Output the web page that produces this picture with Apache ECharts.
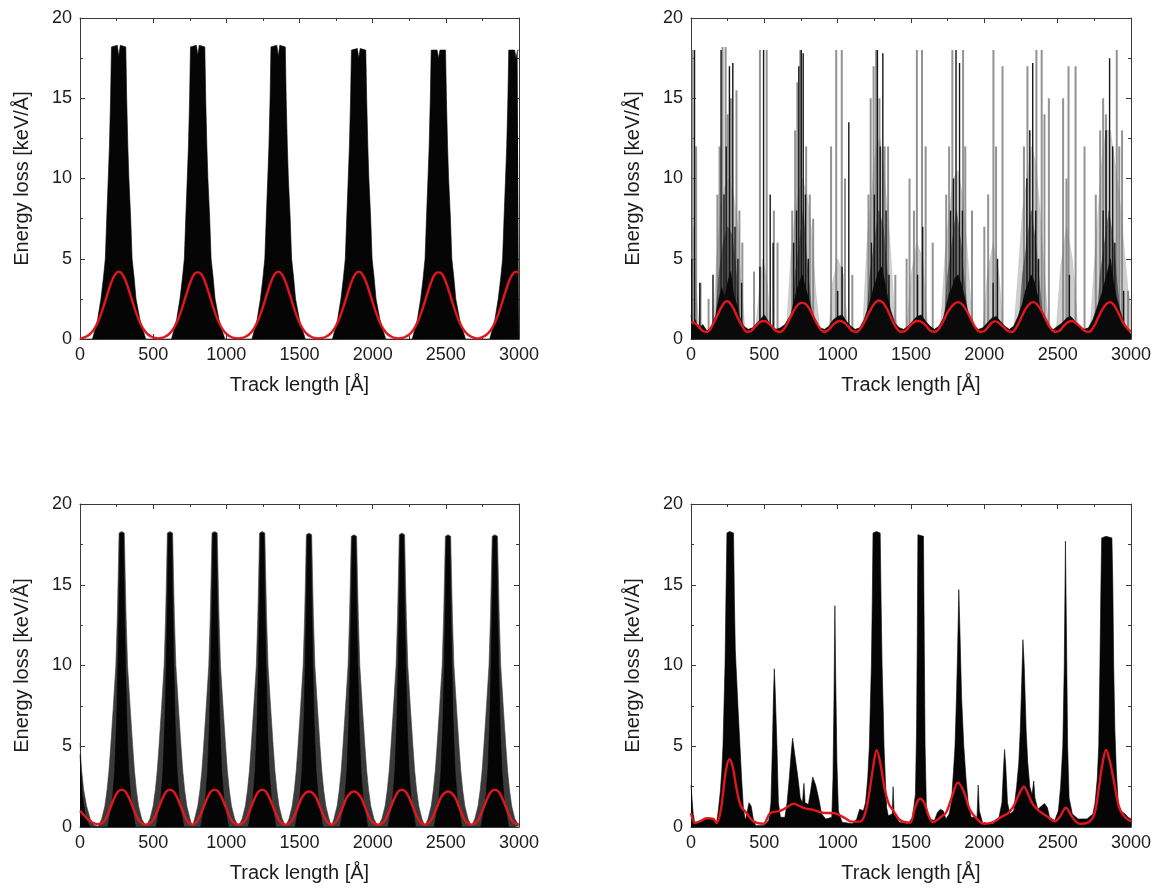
<!DOCTYPE html>
<html>
<head>
<meta charset="utf-8">
<script src="https://cdn.jsdelivr.net/npm/echarts@6/dist/echarts.min.js"></script>
<style>
html,body{margin:0;padding:0;background:#fff;}
#chart{width:1156px;height:893px;}
</style>
</head>
<body>
<div id="chart"></div>
<script>
// ---------------- DATA ----------------
const xTicks = [0, 500, 1000, 1500, 2000, 2500, 3000];
const yTicks = [0, 5, 10, 15, 20];
const xName = 'Track length [Å]';
const yName = 'Energy loss [keV/Å]';

// Panel 1 (top-left): envelope of the black traces
const p1Black = [
[0,0],[85,0],[100,0.5],[120,1.2],[143,2.5],[160,3.8],[173,5],[183,7.6],[193,10],[201,12],[209,15],[215,18.2],[255,18.3],[265,17.6],[275,18.3],[313,18.2],[319,15],[327,12],[334,10],[346,7.6],[356,5],[370,3.8],[383,2.5],[410,1.2],[432,0.5],[450,0],
[625,0],[640,0.5],[660,1.2],[683,2.5],[700,3.8],[713,5],[723,7.6],[733,10],[741,12],[749,15],[755,18.2],[795,18.3],[805,17.7],[815,18.3],[853,18.2],[859,15],[867,12],[874,10],[886,7.6],[896,5],[910,3.8],[923,2.5],[950,1.2],[972,0.5],[990,0],
[1175,0],[1190,0.5],[1210,1.2],[1233,2.5],[1250,3.8],[1263,5],[1273,7.6],[1283,10],[1291,12],[1299,15],[1305,18.2],[1345,18.3],[1355,17.6],[1365,18.3],[1403,18.2],[1409,15],[1417,12],[1424,10],[1436,7.6],[1446,5],[1460,3.8],[1473,2.5],[1500,1.2],[1522,0.5],[1540,0],
[1725,0],[1740,0.5],[1760,1.2],[1783,2.5],[1800,3.8],[1813,5],[1823,7.6],[1833,10],[1841,12],[1849,15],[1855,18.0],[1895,18.1],[1905,17.5],[1915,18.1],[1953,18.0],[1959,15],[1967,12],[1974,10],[1986,7.6],[1996,5],[2010,3.8],[2023,2.5],[2050,1.2],[2072,0.5],[2090,0],
[2270,0],[2285,0.5],[2305,1.2],[2328,2.5],[2345,3.8],[2358,5],[2368,7.6],[2378,10],[2386,12],[2394,15],[2400,18.0],[2440,18.0],[2450,17.5],[2460,18.0],[2498,18.0],[2504,15],[2512,12],[2519,10],[2531,7.6],[2541,5],[2555,3.8],[2568,2.5],[2595,1.2],[2617,0.5],[2635,0],
[2800,0],[2815,0.5],[2835,1.2],[2858,2.5],[2875,3.8],[2888,5],[2898,7.6],[2908,10],[2916,12],[2924,15],[2930,18.0],[2970,18.0],[2980,17.5],[2990,18.0],[3000,18.0]
];
const p1Red = [
[0,0.04],[15,0.06],[40,0.14],[65,0.28],[90,0.53],[115,0.92],[140,1.46],[165,2.14],[190,2.87],[215,3.55],[240,4.03],[265,4.2],[290,4.03],[315,3.55],[340,2.87],[365,2.14],[390,1.46],[415,0.92],[440,0.53],[465,0.28],[490,0.14],[515,0.06],[535,0.04],
[555,0.06],[580,0.14],[605,0.28],[630,0.53],[655,0.92],[680,1.46],[705,2.14],[730,2.87],[755,3.55],[780,4.03],[805,4.15],[830,4.03],[855,3.55],[880,2.87],[905,2.14],[930,1.46],[955,0.92],[980,0.53],[1005,0.28],[1030,0.14],[1055,0.06],[1080,0.04],
[1105,0.06],[1130,0.14],[1155,0.28],[1180,0.53],[1205,0.92],[1230,1.46],[1255,2.14],[1280,2.87],[1305,3.55],[1330,4.03],[1355,4.2],[1380,4.03],[1405,3.55],[1430,2.87],[1455,2.14],[1480,1.46],[1505,0.92],[1530,0.53],[1555,0.28],[1580,0.14],[1605,0.06],[1630,0.04],
[1655,0.06],[1680,0.14],[1705,0.28],[1730,0.53],[1755,0.92],[1780,1.46],[1805,2.14],[1830,2.87],[1855,3.55],[1880,4.03],[1905,4.2],[1930,4.03],[1955,3.55],[1980,2.87],[2005,2.14],[2030,1.46],[2055,0.92],[2080,0.53],[2105,0.28],[2130,0.14],[2155,0.06],[2175,0.04],
[2200,0.06],[2225,0.14],[2250,0.28],[2275,0.53],[2300,0.92],[2325,1.46],[2350,2.14],[2375,2.87],[2400,3.55],[2425,4.03],[2450,4.15],[2475,4.03],[2500,3.55],[2525,2.87],[2550,2.14],[2575,1.46],[2600,0.92],[2625,0.53],[2650,0.28],[2675,0.14],[2700,0.06],[2715,0.04],
[2730,0.06],[2755,0.14],[2780,0.28],[2805,0.53],[2830,0.92],[2855,1.46],[2880,2.14],[2905,2.87],[2930,3.55],[2955,4.03],[2980,4.2],[3000,4.1]
];

// Panel 2 (top-right)
const p2Grey = [
[0,4],[15,7],[35,3],[60,0.5],[150,0.5],[175,5],[200,8],[230,9.5],[260,10],[290,9],[320,7],[345,3],[370,0.5],[440,0.5],[465,3],[490,5],[520,3.5],[545,0.5],[650,0.5],[680,5],[700,7],[730,9],[760,10],[790,9],[820,7],[850,3],[880,0.5],[940,0.5],[965,3.5],[1000,5],[1040,4],[1070,0.5],[1170,0.5],[1200,6],[1230,9],[1260,12],[1290,12.5],[1320,10],[1350,7],[1385,2],[1410,0.5],[1470,0.5],[1500,4],[1540,6],[1580,5],[1615,0.5],[1700,0.5],[1730,5],[1760,8],[1790,10],[1820,10.5],[1850,9],[1880,6],[1910,2],[1935,0.5],[1990,0.5],[2020,4],[2060,6],[2100,4],[2130,0.5],[2200,0.5],[2230,4],[2260,8],[2290,10],[2320,12],[2350,11],[2380,8],[2410,4],[2440,0.5],[2490,0.5],[2520,4.5],[2560,7],[2600,5],[2640,0.5],[2720,0.5],[2760,6],[2800,11],[2830,13],[2860,13],[2890,11],[2920,9],[2950,6],[2980,3],[3000,2]
];
const p2Dark = [
[0,0.8],[160,0.3],[190,4],[220,6],[250,7],[280,6.5],[310,4],[340,0.3],[680,0.3],[710,4],[740,6],[765,8],[790,5],[820,2],[850,0.3],[1190,0.3],[1220,4],[1250,6],[1280,8],[1310,7],[1340,4],[1370,0.3],[1720,0.3],[1750,4],[1780,6],[1810,8],[1840,6],[1870,3],[1900,0.3],[2230,0.3],[2260,4],[2290,6],[2320,8],[2350,6],[2380,3],[2410,0.3],[2760,0.3],[2790,4],[2820,6],[2850,8],[2880,6],[2910,3],[2940,0.3],[3000,0.3]
];
const p2GreySpikes = [
[10,18],[35,12],[65,3.5],[120,2.5],[180,9],[195,12],[215,18.2],[236,18.2],[250,14],[272,15],[310,15.5],[330,8],[350,6],[430,4.2],[470,18],[516,18],[565,8],[590,6],[690,8],[710,13],[725,16],[745,18],[785,12],[810,9],[833,7.5],[955,12],[990,18],[1028,18],[1050,10],[1100,4],[1210,9],[1225,15],[1245,17],[1262,18],[1285,15],[1320,12],[1344,12],[1393,4],[1470,5],[1490,10],[1520,8],[1540,18],[1575,18],[1600,12],[1648,6],[1740,9],[1760,12],[1782,18],[1855,18],[1870,12],[1916,8],[2000,7],[2026,9],[2062,18],[2080,12],[2124,17],[2270,12],[2294,17],[2355,18],[2391,18],[2410,14],[2440,15],[2537,15],[2560,10],[2574,17],[2622,17],[2683,12],[2760,9],[2790,13],[2810,15],[2829,14],[2903,18],[2920,12],[2939,13],[2980,3]
];
const p2BlackSpikes = [
[5,5],[24,18],[60,3.5],[150,4],[205,18],[225,9],[240,12],[262,17],[285,17.2],[300,7],[320,5],[345,3.5],[470,4.5],[495,18],[540,9],[560,6],[700,6],[720,8],[735,17],[752,18],[765,17.8],[780,9],[800,5],[1000,3],[1030,4.5],[1076,13.5],[1230,6],[1250,9],[1271,18],[1290,12],[1308,17.8],[1330,8],[1350,4],[1545,4],[1580,7],[1770,8],[1790,10],[1807,18],[1831,17.2],[1850,8],[2060,3.5],[2090,5],[2290,10],[2310,13],[2330,17.2],[2350,8],[2370,5],[2580,4],[2810,8],[2830,13],[2854,17.5],[2875,12],[2890,6],[2950,3]
];
const p2Black = [
[0,1.5],[10,0.8],[30,1.2],[50,0.6],[80,0.9],[110,0.5],[140,0.8],[170,1.5],[190,2.5],[210,3.2],[230,2.6],[250,3.5],[270,4.2],[290,2.8],[310,2.2],[330,1.4],[360,0.8],[390,0.6],[420,0.7],[450,1.0],[480,1.3],[500,1.5],[520,1.2],[550,0.8],[580,0.6],[610,0.7],[640,0.9],[680,1.5],[700,2.2],[720,3.0],[740,3.6],[760,4.0],[780,3.2],[800,2.6],[820,1.8],[850,1.0],[880,0.7],[910,0.6],[940,0.8],[970,1.2],[1000,1.4],[1030,1.5],[1060,1.1],[1090,0.8],[1120,0.6],[1150,0.7],[1180,1.2],[1210,2.0],[1240,3.0],[1260,3.6],[1280,4.2],[1300,4.5],[1320,3.6],[1340,2.6],[1360,1.8],[1390,1.0],[1420,0.7],[1450,0.6],[1480,0.8],[1510,1.1],[1540,1.4],[1570,1.5],[1600,1.1],[1630,0.8],[1660,0.6],[1690,0.8],[1720,1.3],[1740,2.0],[1760,2.8],[1780,3.2],[1800,3.8],[1820,4.0],[1840,3.5],[1860,2.8],[1880,2.0],[1900,1.3],[1930,0.8],[1960,0.6],[1990,0.7],[2020,1.0],[2050,1.3],[2080,1.4],[2110,1.1],[2140,0.8],[2170,0.6],[2200,0.8],[2230,1.4],[2260,2.2],[2280,3.0],[2300,3.5],[2320,4.0],[2340,3.6],[2360,2.8],[2380,2.0],[2410,1.2],[2440,0.7],[2470,0.6],[2500,0.8],[2530,1.0],[2560,1.3],[2590,1.4],[2620,1.1],[2650,0.8],[2680,0.6],[2710,0.7],[2740,1.2],[2770,2.0],[2800,2.8],[2820,3.5],[2840,4.2],[2860,5.0],[2880,3.6],[2900,2.6],[2930,1.6],[2960,0.8],[2980,0.5],[3000,0.3]
];
const p2Red = [
[0,1.05],[25,1.0],[50,0.8],[80,0.5],[110,0.45],[140,0.75],[170,1.3],[200,1.85],[225,2.25],[245,2.35],[265,2.25],[290,1.9],[320,1.3],[350,0.8],[380,0.45],[410,0.5],[440,0.8],[470,1.05],[495,1.12],[520,1.05],[550,0.8],[580,0.5],[610,0.45],[640,0.7],[670,1.2],[700,1.75],[730,2.15],[757,2.25],[785,2.15],[815,1.75],[845,1.2],[875,0.7],[905,0.45],[935,0.55],[965,0.85],[995,1.08],[1015,1.12],[1040,1.05],[1070,0.8],[1100,0.5],[1130,0.45],[1160,0.7],[1190,1.2],[1220,1.75],[1250,2.2],[1280,2.4],[1310,2.25],[1340,1.8],[1370,1.2],[1400,0.7],[1430,0.45],[1460,0.5],[1490,0.8],[1520,1.05],[1548,1.12],[1575,1.05],[1605,0.8],[1635,0.5],[1665,0.45],[1695,0.7],[1725,1.2],[1755,1.75],[1790,2.15],[1822,2.3],[1850,2.15],[1880,1.75],[1910,1.2],[1940,0.7],[1970,0.45],[2000,0.5],[2030,0.8],[2055,1.05],[2075,1.1],[2100,1.0],[2130,0.75],[2160,0.5],[2190,0.45],[2220,0.75],[2250,1.3],[2280,1.85],[2310,2.2],[2335,2.3],[2360,2.15],[2390,1.75],[2420,1.2],[2450,0.7],[2480,0.45],[2510,0.5],[2540,0.8],[2570,1.05],[2598,1.12],[2625,1.0],[2655,0.75],[2685,0.5],[2715,0.45],[2745,0.75],[2775,1.3],[2805,1.85],[2835,2.2],[2858,2.3],[2885,2.1],[2915,1.6],[2945,1.05],[2975,0.65],[3000,0.45]
];

// Panel 3 (bottom-left)
const p3Outer = [
[0,5.2],[10,3.6],[25,2.3],[45,1.3],[70,0.5],[100,0.1],[125,0.05],
[148,0.5],[170,1.3],[185,2.3],[198,3.5],[210,5],[228,7.5],[245,10],[255,13],[261,15.5],[267,18.2],[285,18.3],[303,18.2],[309,15.5],[315,13],[325,10],[342,7.5],[360,5],[372,3.5],[385,2.3],[400,1.3],[422,0.5],[450,0.05],
[478,0.5],[500,1.3],[515,2.3],[528,3.5],[540,5],[558,7.5],[575,10],[585,13],[591,15.5],[597,18.2],[615,18.3],[633,18.2],[639,15.5],[645,13],[655,10],[672,7.5],[690,5],[702,3.5],[715,2.3],[730,1.3],[752,0.5],[767,0.05],
[783,0.5],[805,1.3],[820,2.3],[833,3.5],[845,5],[863,7.5],[880,10],[890,13],[896,15.5],[902,18.2],[920,18.3],[938,18.2],[944,15.5],[950,13],[960,10],[977,7.5],[995,5],[1007,3.5],[1020,2.3],[1035,1.3],[1057,0.5],[1082,0.05],
[1108,0.5],[1130,1.3],[1145,2.3],[1158,3.5],[1170,5],[1188,7.5],[1205,10],[1215,13],[1221,15.5],[1227,18.2],[1245,18.3],[1263,18.2],[1269,15.5],[1275,13],[1285,10],[1302,7.5],[1320,5],[1332,3.5],[1345,2.3],[1360,1.3],[1382,0.5],[1405,0.05],
[1428,0.5],[1450,1.3],[1465,2.3],[1478,3.5],[1490,5],[1508,7.5],[1525,10],[1535,13],[1541,15.5],[1547,18.1],[1565,18.2],[1583,18.1],[1589,15.5],[1595,13],[1605,10],[1622,7.5],[1640,5],[1652,3.5],[1665,2.3],[1680,1.3],[1702,0.5],[1718,0.05],
[1735,0.5],[1757,1.3],[1772,2.3],[1785,3.5],[1797,5],[1815,7.5],[1832,10],[1842,13],[1848,15.5],[1854,18.0],[1872,18.1],[1890,18.0],[1896,15.5],[1902,13],[1912,10],[1929,7.5],[1947,5],[1959,3.5],[1972,2.3],[1987,1.3],[2009,0.5],[2036,0.05],
[2063,0.5],[2085,1.3],[2100,2.3],[2113,3.5],[2125,5],[2143,7.5],[2160,10],[2170,13],[2176,15.5],[2182,18.1],[2200,18.2],[2218,18.1],[2224,15.5],[2230,13],[2240,10],[2257,7.5],[2275,5],[2287,3.5],[2300,2.3],[2315,1.3],[2337,0.5],[2357,0.05],
[2378,0.5],[2400,1.3],[2415,2.3],[2428,3.5],[2440,5],[2458,7.5],[2475,10],[2485,13],[2491,15.5],[2497,18.0],[2515,18.1],[2533,18.0],[2539,15.5],[2545,13],[2555,10],[2572,7.5],[2590,5],[2602,3.5],[2615,2.3],[2630,1.3],[2652,0.5],[2675,0.05],
[2698,0.5],[2720,1.3],[2735,2.3],[2748,3.5],[2760,5],[2778,7.5],[2795,10],[2805,13],[2811,15.5],[2817,18.0],[2835,18.1],[2853,18.0],[2859,15.5],[2865,13],[2875,10],[2892,7.5],[2910,5],[2922,3.5],[2935,2.3],[2950,1.3],[2972,0.5],[3000,0.1]
];
const p3Core = [
[0,4.5],[15,2],[40,0.5],[70,0],
[190,0],[220,1.5],[237,3.5],[250,6.5],[259,10],[267,14],[273,18.2],[297,18.2],[303,14],[311,10],[320,6.5],[333,3.5],[350,1.5],[380,0],
[520,0],[550,1.5],[567,3.5],[580,6.5],[589,10],[597,14],[603,18.2],[627,18.2],[633,14],[641,10],[650,6.5],[663,3.5],[680,1.5],[710,0],
[825,0],[855,1.5],[872,3.5],[885,6.5],[894,10],[902,14],[908,18.2],[932,18.2],[938,14],[946,10],[955,6.5],[968,3.5],[985,1.5],[1015,0],
[1150,0],[1180,1.5],[1197,3.5],[1210,6.5],[1219,10],[1227,14],[1233,18.2],[1257,18.2],[1263,14],[1271,10],[1280,6.5],[1293,3.5],[1310,1.5],[1340,0],
[1470,0],[1500,1.5],[1517,3.5],[1530,6.5],[1539,10],[1547,14],[1553,18.1],[1577,18.1],[1583,14],[1591,10],[1600,6.5],[1613,3.5],[1630,1.5],[1660,0],
[1777,0],[1807,1.5],[1824,3.5],[1837,6.5],[1846,10],[1854,14],[1860,18.0],[1884,18.0],[1890,14],[1898,10],[1907,6.5],[1920,3.5],[1937,1.5],[1967,0],
[2105,0],[2135,1.5],[2152,3.5],[2165,6.5],[2174,10],[2182,14],[2188,18.1],[2212,18.1],[2218,14],[2226,10],[2235,6.5],[2248,3.5],[2265,1.5],[2295,0],
[2420,0],[2450,1.5],[2467,3.5],[2480,6.5],[2489,10],[2497,14],[2503,18.0],[2527,18.0],[2533,14],[2541,10],[2550,6.5],[2563,3.5],[2580,1.5],[2610,0],
[2740,0],[2770,1.5],[2787,3.5],[2800,6.5],[2809,10],[2817,14],[2823,18.0],[2847,18.0],[2853,14],[2861,10],[2870,6.5],[2883,3.5],[2900,1.5],[2930,0],[3000,0]
];
const p3Red = [
[0,1.0],[25,0.75],[50,0.5],[80,0.3],[120,0.18],[160,0.3],[185,0.7],[210,1.25],[235,1.8],[260,2.2],[285,2.3],[310,2.2],[335,1.8],[360,1.25],[385,0.7],[410,0.3],[450,0.15],
[490,0.3],[515,0.7],[540,1.25],[565,1.8],[590,2.2],[615,2.3],[640,2.2],[665,1.8],[690,1.25],[715,0.7],[740,0.3],[767,0.15],
[795,0.3],[820,0.7],[845,1.25],[870,1.8],[895,2.2],[920,2.3],[945,2.2],[970,1.8],[995,1.25],[1020,0.7],[1045,0.3],[1082,0.15],
[1120,0.3],[1145,0.7],[1170,1.25],[1195,1.8],[1220,2.2],[1245,2.3],[1270,2.2],[1295,1.8],[1320,1.25],[1345,0.7],[1370,0.3],[1405,0.15],
[1440,0.3],[1465,0.7],[1490,1.25],[1515,1.8],[1540,2.1],[1565,2.2],[1590,2.1],[1615,1.8],[1640,1.25],[1665,0.7],[1690,0.3],[1718,0.15],
[1747,0.3],[1772,0.7],[1797,1.25],[1822,1.8],[1847,2.1],[1872,2.2],[1897,2.1],[1922,1.8],[1947,1.25],[1972,0.7],[1997,0.3],[2036,0.15],
[2075,0.3],[2100,0.7],[2125,1.25],[2150,1.8],[2175,2.2],[2200,2.3],[2225,2.2],[2250,1.8],[2275,1.25],[2300,0.7],[2325,0.3],[2357,0.15],
[2390,0.3],[2415,0.7],[2440,1.25],[2465,1.8],[2490,2.1],[2515,2.2],[2540,2.1],[2565,1.8],[2590,1.25],[2615,0.7],[2640,0.3],[2675,0.15],
[2710,0.3],[2735,0.7],[2760,1.25],[2785,1.8],[2810,2.2],[2835,2.3],[2860,2.2],[2885,1.8],[2910,1.25],[2935,0.7],[2960,0.3],[3000,0.15]
];

// Panel 4 (bottom-right)
const p4Black = [
[0,2.6],[8,2.7],[15,0.8],[25,0.3],[60,0.3],[100,0.5],[150,0.5],[175,0.3],[186,1.0],[200,2.2],[210,3.5],[218,5],[225,7.5],[232,10],[238,14],[245,18.2],[262,18.3],[275,18.2],[290,18.2],[296,14],[302,11],[307,10],[320,7.5],[334,5],[345,3],[357,1.2],[370,0.4],[380,0.8],[395,1.5],[410,1.3],[425,0.5],[440,0.1],[500,0.1],[530,0.4],[545,1.5],[555,5],[562,8],[568,9.8],[574,8.5],[586,5],[596,1.5],[610,0.6],[640,0.6],[655,1.5],[670,3],[685,4.8],[693,5.5],[700,5],[715,4],[730,3],[745,1.8],[760,1.5],[770,2.7],[778,1.5],[800,1.4],[815,2.2],[830,3.1],[836,3.2],[850,2.6],[870,1.8],[891,0.8],[920,0.5],[960,0.6],[968,3],[975,8],[981,13.7],[987,9],[995,4],[1005,1],[1030,0.3],[1100,0.2],[1130,0.5],[1150,1.1],[1175,1.0],[1190,1.5],[1205,3],[1216,5],[1224,8],[1230,10],[1236,14],[1241,18.2],[1265,18.3],[1290,18.2],[1296,14],[1303,10],[1310,7.5],[1316,5],[1325,3],[1334,1.2],[1345,0.7],[1372,0.8],[1378,2.5],[1385,0.8],[1420,0.3],[1480,0.2],[1510,0.6],[1530,2],[1538,6],[1543,12],[1547,18.1],[1585,18.0],[1590,12],[1596,5],[1605,1.2],[1625,0.5],[1660,0.4],[1680,0.9],[1700,1.1],[1720,1.0],[1738,0.5],[1760,0.8],[1775,1.5],[1790,3.5],[1800,5],[1810,8],[1818,11],[1826,14.7],[1834,12],[1845,8],[1860,5],[1875,3],[1890,1.5],[1910,0.6],[1950,0.6],[1958,2.6],[1966,1.0],[1990,0.2],[2060,0.2],[2100,0.6],[2120,1.5],[2130,3.5],[2138,4.8],[2146,3.8],[2158,1.5],[2175,0.8],[2200,1.0],[2220,2.5],[2235,4],[2245,6],[2255,9],[2263,11.6],[2272,10],[2285,6],[2296,4],[2310,2.5],[2325,2],[2337,2.85],[2345,1.8],[2365,1.1],[2390,1.3],[2410,1.45],[2430,1.2],[2445,0.6],[2480,0.4],[2505,1.0],[2520,2.5],[2535,5],[2545,10],[2553,17.7],[2560,12],[2568,5],[2578,1.8],[2600,0.8],[2640,0.5],[2700,0.5],[2740,0.8],[2755,1.5],[2770,3],[2780,5],[2788,10],[2795,15],[2800,17.9],[2830,18.0],[2870,17.9],[2876,15],[2882,10],[2890,6],[2900,3.5],[2913,1.5],[2930,1.0],[2960,0.8],[2980,0.6],[3000,0.5]
];
const p4Red = [
[0,0.85],[27,0.25],[60,0.35],[107,0.55],[152,0.5],[175,0.25],[200,0.9],[220,2.2],[240,3.6],[262,4.2],[285,3.7],[310,2.4],[340,1.3],[380,0.85],[425,0.35],[493,0.2],[539,0.85],[607,1.0],[650,1.2],[700,1.45],[740,1.3],[780,1.15],[840,1.05],[900,0.88],[980,0.85],[1050,0.55],[1100,0.33],[1150,0.33],[1180,0.64],[1210,1.8],[1240,3.6],[1266,4.75],[1290,4.0],[1320,2.4],[1350,1.4],[1380,1.0],[1425,0.43],[1493,0.27],[1527,1.2],[1561,1.75],[1590,1.5],[1620,0.7],[1650,0.3],[1700,0.6],[1740,0.9],[1780,1.9],[1820,2.75],[1860,2.2],[1900,1.1],[1950,0.5],[2000,0.2],[2060,0.3],[2120,0.65],[2160,0.85],[2200,1.3],[2240,2.1],[2270,2.5],[2300,2.0],[2334,1.36],[2380,0.95],[2430,0.64],[2480,0.35],[2520,0.7],[2555,1.2],[2600,0.6],[2650,0.2],[2700,0.25],[2750,0.8],[2780,2.4],[2805,3.9],[2830,4.77],[2855,4.1],[2880,3.0],[2920,1.2],[2960,0.6],[3000,0.35]
];

// ---------------- CHART ----------------
const FONT = '"Liberation Sans", Arial, Helvetica, sans-serif';
const TXT = '#1c1c1c';
const AX = '#3a3a3a';
const RED = '#e3161e';

const grids = [
  {left: 80, top: 18, width: 439, height: 321},
  {left: 691, top: 18, width: 440, height: 321},
  {left: 80, top: 504, width: 439, height: 323},
  {left: 691, top: 504, width: 440, height: 323}
];

const xAxes = [], yAxes = [];
grids.forEach((g, i) => {
  const common = {
    gridIndex: i, type: 'value',
    axisLine: {onZero: false, lineStyle: {color: AX, width: 1}},
    axisTick: {inside: true, length: 5, lineStyle: {color: AX, width: 1}},
    minorTick: {show: true, splitNumber: 2, length: 3, lineStyle: {color: AX, width: 1}},
    splitLine: {show: false}, minorSplitLine: {show: false}
  };
  xAxes.push(Object.assign({}, common, {
    position: 'bottom', min: xTicks[0], max: xTicks[xTicks.length - 1], interval: xTicks[1] - xTicks[0],
    axisLabel: {fontSize: 18, color: TXT, fontFamily: FONT, margin: 7, formatter: v => String(v)},
    name: xName, nameLocation: 'middle', nameGap: 36,
    nameTextStyle: {fontSize: 20, color: TXT, fontFamily: FONT}
  }));
  xAxes.push(Object.assign({}, common, {
    position: 'top', min: xTicks[0], max: xTicks[xTicks.length - 1], interval: xTicks[1] - xTicks[0],
    axisLabel: {show: false}
  }));
  yAxes.push(Object.assign({}, common, {
    position: 'left', min: yTicks[0], max: yTicks[yTicks.length - 1], interval: yTicks[1] - yTicks[0],
    axisLabel: {fontSize: 18, color: TXT, fontFamily: FONT, margin: 8, formatter: v => String(v)},
    name: yName, nameLocation: 'middle', nameGap: 48,
    nameTextStyle: {fontSize: 20, color: TXT, fontFamily: FONT}
  }));
  yAxes.push(Object.assign({}, common, {
    position: 'right', min: yTicks[0], max: yTicks[yTicks.length - 1], interval: yTicks[1] - yTicks[0],
    axisLabel: {show: false}
  }));
});

function area(data, gi, color, z) {
  return {type: 'line', xAxisIndex: 2 * gi, yAxisIndex: 2 * gi, data: data,
    symbol: 'none', silent: true, z: z || 2,
    lineStyle: {width: 0.6, color: color}, areaStyle: {color: color, opacity: 1}};
}
function redLine(data, gi) {
  return {type: 'line', xAxisIndex: 2 * gi, yAxisIndex: 2 * gi, data: data,
    symbol: 'none', silent: true, smooth: 0.35, z: 10,
    lineStyle: {width: 2.4, color: RED}};
}
function spikes(data, gi, color, w, z) {
  return {type: 'custom', xAxisIndex: 2 * gi, yAxisIndex: 2 * gi, data: data,
    encode: {x: 0, y: 1}, silent: true, clip: true, z: z || 3,
    renderItem: function (params, api) {
      const x = api.value(0), h = api.value(1);
      const a = api.coord([x, 0]), b = api.coord([x, h]);
      return {type: 'line', shape: {x1: a[0], y1: a[1], x2: b[0], y2: b[1]},
        style: {stroke: color, lineWidth: w}};
    }};
}

const series = [
  area(p1Black, 0, '#050505'),
  redLine(p1Red, 0),

  area(p2Grey, 1, 'rgba(160,160,160,0.5)', 2),
  spikes(p2GreySpikes, 1, 'rgba(120,120,120,0.8)', 2, 3),
  area(p2Dark, 1, 'rgba(50,50,50,0.6)', 4),
  spikes(p2BlackSpikes, 1, '#151515', 1.4, 5),
  area(p2Black, 1, '#0a0a0a', 6),
  redLine(p2Red, 1),

  area(p3Outer, 2, '#3a3a3a', 2),
  area(p3Core, 2, '#050505', 3),
  redLine(p3Red, 2),

  area(p4Black, 3, '#050505'),
  redLine(p4Red, 3)
];

const chart = echarts.init(document.getElementById('chart'), null, {renderer: 'canvas'});
chart.setOption({
  animation: false,
  backgroundColor: '#ffffff',
  grid: grids,
  xAxis: xAxes,
  yAxis: yAxes,
  series: series
});
</script>
</body>
</html>
